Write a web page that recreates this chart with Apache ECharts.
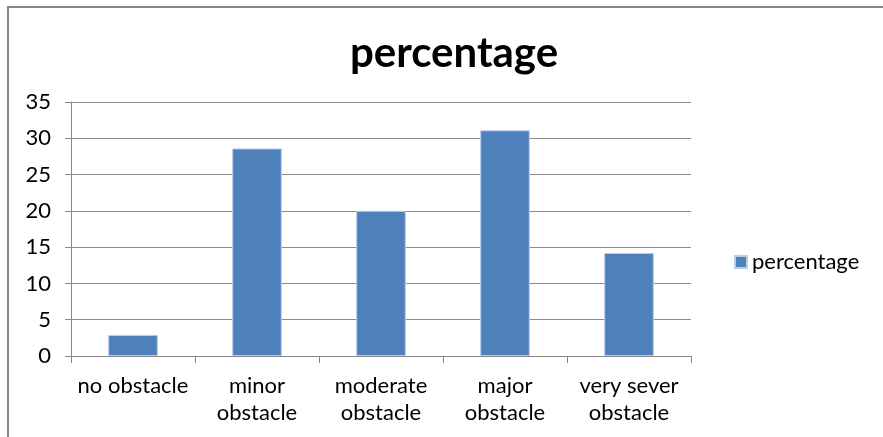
<!DOCTYPE html>
<html>
<head>
<meta charset="utf-8">
<script src="https://cdn.jsdelivr.net/npm/echarts@6/dist/echarts.min.js"></script>
<style>
  html, body { margin: 0; padding: 0; background: #fff; }
  #chart { width: 883px; height: 437px; }
</style>
</head>
<body>
<div id="chart"></div>
<script>
// Obstacle ratings and their share of responses
const categories = ['no obstacle', 'minor\nobstacle', 'moderate\nobstacle', 'major\nobstacle', 'very sever\nobstacle'];
const percentage = [2.9, 28.6, 20.0, 31.1, 14.2];
const seriesName = 'percentage';

const FONT = 'Lato, "Open Sans", sans-serif';
const chart = echarts.init(document.getElementById('chart'), null, { renderer: 'canvas' });

chart.setOption({
  backgroundColor: '#fff',
  animation: false,
  graphic: [
    {
      type: 'rect',
      shape: { x: 8, y: 7, width: 1000, height: 600 },
      style: { fill: 'none', stroke: '#878787', lineWidth: 2 },
      silent: true
    }
  ],
  title: {
    text: seriesName,
    left: 449,
    textAlign: 'center',
    top: 27,
    textStyle: { fontFamily: FONT, fontWeight: 'bold', fontSize: 42, color: '#000' }
  },
  legend: {
    left: 729,
    top: 246,
    itemWidth: 12,
    itemHeight: 12,
    itemGap: 6,
    icon: 'rect',
    textStyle: { fontFamily: FONT, fontSize: 22, color: '#000' },
    data: [seriesName]
  },
  grid: { left: 71, right: 192, top: 102, bottom: 81, containLabel: false },
  xAxis: {
    type: 'category',
    data: categories,
    axisLine: { lineStyle: { color: '#878787', width: 1 } },
    axisTick: { show: true, length: 7, alignWithLabel: false, lineStyle: { color: '#878787' } },
    axisLabel: {
      fontFamily: FONT, fontSize: 22, color: '#000',
      margin: 16, lineHeight: 27, interval: 0
    }
  },
  yAxis: {
    type: 'value',
    min: 0,
    max: 35,
    interval: 5,
    axisLine: { show: true, lineStyle: { color: '#878787', width: 1 } },
    axisTick: { show: true, length: 6, lineStyle: { color: '#878787' } },
    axisLabel: { fontFamily: FONT, fontSize: 22, color: '#000', margin: 20 },
    splitLine: { lineStyle: { color: '#8c8c8c', width: 1 } }
  },
  series: [
    {
      name: seriesName,
      type: 'bar',
      data: percentage,
      barWidth: '40%',
      itemStyle: { color: '#4F81BD', borderColor: '#b9cde5', borderWidth: 1 }
    }
  ]
});
</script>
</body>
</html>
